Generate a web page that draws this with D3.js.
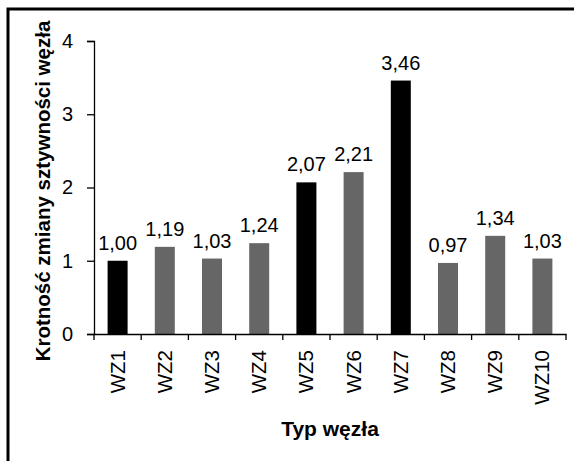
<!DOCTYPE html>
<html><head><meta charset="utf-8">
<script src="https://cdn.jsdelivr.net/npm/d3@7"></script>
<style>body{margin:0;background:#fff}svg{display:block}text{font-family:"Liberation Sans",Arial,sans-serif}</style>
</head><body>
<script>
const categories = ["WZ1","WZ2","WZ3","WZ4","WZ5","WZ6","WZ7","WZ8","WZ9","WZ10"];
const values = [1.00,1.19,1.03,1.24,2.07,2.21,3.46,0.97,1.34,1.03];
const highlighted = [true,false,false,false,true,false,true,false,false,false];
const yTicks = [0,1,2,3,4];
const yTitle = "Krotność zmiany sztywności węzła";
const xTitle = "Typ węzła";

const W = 574, H = 461;
const svg = d3.select("body").append("svg").attr("width", W).attr("height", H);
svg.append("rect").attr("x", 8).attr("y", 9).attr("width", 600).attr("height", 500)
  .attr("fill", "none").attr("stroke", "#000").attr("stroke-width", 3);

const mLeft = 94, mRight = 566, mTop = 41, mBottom = 334;
const xb = d3.scaleBand().domain(categories).range([mLeft, mRight]);
const y = d3.scaleLinear().domain([0, 4]).range([mBottom, mTop]);

// bars
svg.selectAll("rect.bar").data(categories).enter().append("rect")
  .attr("class", "bar")
  .attr("x", d => xb(d) + xb.bandwidth()/2 - 10)
  .attr("width", 20)
  .attr("y", (d,i) => y(values[i]))
  .attr("height", (d,i) => y(0) - y(values[i]))
  .attr("fill", (d,i) => highlighted[i] ? "#000" : "#666");

// value labels
svg.selectAll("text.val").data(categories).enter().append("text")
  .attr("class", "val")
  .attr("x", d => xb(d) + xb.bandwidth()/2)
  .attr("y", (d,i) => y(values[i]) - 11)
  .attr("text-anchor", "middle")
  .attr("font-size", 20)
  .text((d,i) => values[i].toFixed(2).replace(".", ","));

// y axis
const yAxis = svg.append("g").attr("transform", `translate(${mLeft},0)`)
  .call(d3.axisLeft(y).tickValues(yTicks).tickSize(7).tickPadding(14).tickFormat(d => d));
yAxis.select(".domain").attr("stroke", "#000").attr("stroke-width", 1.3);
yAxis.selectAll("line").attr("stroke", "#000").attr("stroke-width", 1.3);
yAxis.selectAll("text").attr("font-size", 20).attr("font-family", "Liberation Sans, Arial, sans-serif").attr("fill", "#000");

// x axis
const xAxis = svg.append("g").attr("transform", `translate(0,${mBottom})`)
  .call(d3.axisBottom(xb).tickSize(0).tickFormat(""));
xAxis.select(".domain").attr("stroke", "#000").attr("stroke-width", 1.3);
const bounds = categories.map(d => xb(d)).concat([mRight]);
svg.selectAll("line.xt").data(bounds).enter().append("line")
  .attr("x1", d => d).attr("x2", d => d)
  .attr("y1", mBottom).attr("y2", mBottom + 6)
  .attr("stroke", "#000").attr("stroke-width", 1.3);

svg.selectAll("text.xl").data(categories).enter().append("text")
  .attr("class", "xl")
  .attr("transform", d => `translate(${xb(d) + xb.bandwidth()/2 + 7},350) rotate(-90)`)
  .attr("text-anchor", "end")
  .attr("font-size", 20.5)
  .text(d => d);

// titles
svg.append("text").attr("x", (mLeft + mRight)/2).attr("y", 436)
  .attr("text-anchor", "middle").attr("font-size", 21).attr("font-weight", "bold")
  .text(xTitle);
svg.append("text").attr("transform", "translate(50,191) rotate(-90)")
  .attr("text-anchor", "middle").attr("font-size", 20.5).attr("font-weight", "bold")
  .text(yTitle);
</script>
</body></html>
